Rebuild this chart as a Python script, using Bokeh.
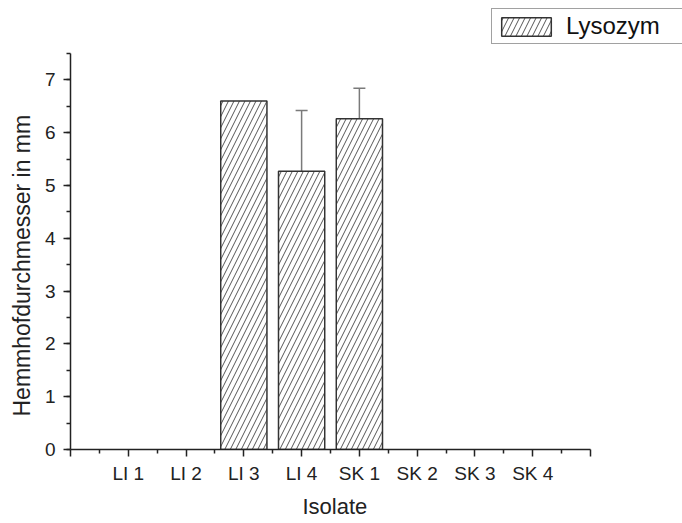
from bokeh.plotting import figure
from bokeh.models import (ColumnDataSource, FixedTicker, Range1d, Legend,
                          LegendItem, Whisker, TeeHead, Title)
from bokeh.embed import file_html
from bokeh.resources import INLINE

# Inhibition zone diameters (mm) per isolate, with upper error
isolates = ["LI 1", "LI 2", "LI 3", "LI 4", "SK 1", "SK 2", "SK 3", "SK 4"]
lysozym = [0, 0, 6.6, 5.27, 6.26, 0, 0, 0]
lysozym_err = [0, 0, 0, 1.15, 0.58, 0, 0, 0]

positions = list(range(1, len(isolates) + 1))
FONT = "Liberation Sans"

# The frame runs to the top and right edges so the legend fits inside it;
# the axes themselves are bounded to 0..9 and 0..7.5.
X_AXIS_END, Y_AXIS_END = 9, 7.5
p = figure(width=682, height=523, output_backend="svg", toolbar_location=None,
           x_range=Range1d(0, X_AXIS_END * 612 / 520),
           y_range=Range1d(0, Y_AXIS_END * 450 / 397))
p.min_border_left = 70
p.min_border_right = 0
p.min_border_top = 0
p.min_border_bottom = 73
p.outline_line_color = None
p.xgrid.visible = False
p.ygrid.visible = False
p.background_fill_color = "white"
p.border_fill_color = "white"

bars = ColumnDataSource(dict(
    x=[x for x, v in zip(positions, lysozym) if v > 0],
    top=[v for v in lysozym if v > 0],
    upper=[v + e for v, e in zip(lysozym, lysozym_err) if v > 0],
    err=[e for v, e in zip(lysozym, lysozym_err) if v > 0],
))

r = p.vbar(x="x", top="top", width=0.8, source=bars,
           fill_color="white", line_color="#333333", line_width=1.5,
           hatch_pattern="/", hatch_color="#555555", hatch_scale=11,
           hatch_weight=1)

err_src = ColumnDataSource(dict(
    x=[x for x, e in zip(bars.data["x"], bars.data["err"]) if e > 0],
    lower=[t for t, e in zip(bars.data["top"], bars.data["err"]) if e > 0],
    upper=[u for u, e in zip(bars.data["upper"], bars.data["err"]) if e > 0],
))
whisk = Whisker(base="x", lower="lower", upper="upper", source=err_src,
                dimension="height", line_color="#7a7a7a", line_width=1.5,
                lower_head=None,
                upper_head=TeeHead(size=12, line_color="#7a7a7a", line_width=1.5))
p.add_layout(whisk)

# x axis: categories at integer positions, unlabeled end ticks
p.xaxis.bounds = (0, X_AXIS_END)
p.xaxis.ticker = FixedTicker(ticks=list(range(0, 10)),
                             minor_ticks=[i + 0.5 for i in range(0, 9)])
overrides = {i: "" for i in range(0, 10)}
overrides.update({pos: name for pos, name in zip(positions, isolates)})
p.xaxis.major_label_overrides = overrides

p.yaxis.bounds = (0, Y_AXIS_END)
p.yaxis.ticker = FixedTicker(ticks=list(range(0, 8)),
                             minor_ticks=[i * 0.5 for i in range(0, 16)])

for ax in (p.xaxis[0], p.yaxis[0]):
    ax.axis_line_color = "#222222"
    ax.axis_line_width = 1.5
    ax.major_tick_line_color = "#222222"
    ax.major_tick_line_width = 1.5
    ax.minor_tick_line_color = "#222222"
    ax.minor_tick_line_width = 1.5
    ax.major_tick_in = 0
    ax.major_tick_out = 7
    ax.minor_tick_in = 0
    ax.minor_tick_out = 4
    ax.major_label_text_font = FONT
    ax.major_label_text_font_size = "19px"
    ax.major_label_text_color = "#222222"

p.xaxis.major_label_standoff = 6
p.yaxis.major_label_standoff = 8

# axis titles, placed along the bounded axis spans
x_title = Title(text="Isolate", align="left", offset=232, standoff=10,
                text_font=FONT, text_font_size="22px",
                text_font_style="normal", text_color="#222222")
p.add_layout(x_title, "below")
y_title = Title(text="Hemmhofdurchmesser in mm", align="left", offset=33,
                standoff=13, text_font=FONT, text_font_size="23px",
                text_font_style="normal", text_color="#222222")
p.add_layout(y_title, "left")

legend = Legend(items=[LegendItem(label="Lysozym", renderers=[r])],
                location=(421, 405), orientation="vertical",
                glyph_width=62, glyph_height=23, padding=3, margin=0,
                spacing=0, label_standoff=9, label_width=125,
                label_text_font=FONT, label_text_font_size="24px",
                label_text_color="#111111",
                border_line_color="#444444", border_line_width=1.2,
                background_fill_alpha=1.0)
p.add_layout(legend, "center")

open("out.html", "w").write(file_html(p, INLINE))
